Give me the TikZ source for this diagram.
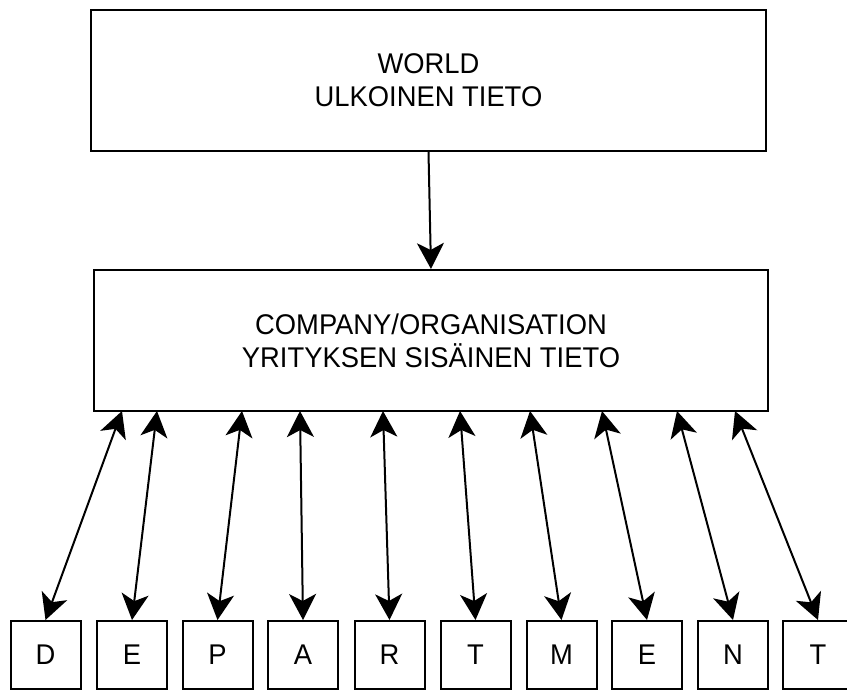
\documentclass[tikz,border=0pt]{standalone}
\usepackage{fontspec}
\setmainfont{Liberation Sans}[FakeStretch=0.96]
\usetikzlibrary{arrows.meta}
\begin{document}
\begin{tikzpicture}[x=1pt,y=-1pt,
  box/.style={draw, line width=2pt, inner sep=0pt, align=center,
    font=\fontsize{28.5}{33}\selectfont},
  letterbox/.style={box, minimum width=70pt, minimum height=68pt},
  tip/.tip={Stealth[length=26pt,width=27pt,inset=7pt]},
  oneway/.style={line width=2pt, -tip},
  link/.style={line width=2pt, tip-tip},
]
\useasboundingbox (0,0) rectangle (847,691);
\node[box, minimum width=675pt, minimum height=141pt] (world) at (428.5,80.5) {WORLD\\ULKOINEN TIETO};
\node[box, minimum width=674pt, minimum height=141pt] (org) at (431,340.5) {COMPANY/ORGANISATION\\YRITYKSEN SISÄINEN TIETO};
\draw[oneway] (world.south) -- (org.north);

\foreach \i/\x/\t/\c in {1/45.5/D/122, 2/132/E/157, 3/217.5/P/242, 4/303/A/300, 5/389.5/R/383,
                         6/475.5/T/460, 7/561.5/M/530, 8/647/E/602, 9/733/N/677, 10/818/T/735}{
  \node[letterbox] (b\i) at (\x,655) {\t};
  \coordinate (c\i) at (\c,411);
  \draw[link] (b\i.north) -- (c\i);
}
\end{tikzpicture}
\end{document}
